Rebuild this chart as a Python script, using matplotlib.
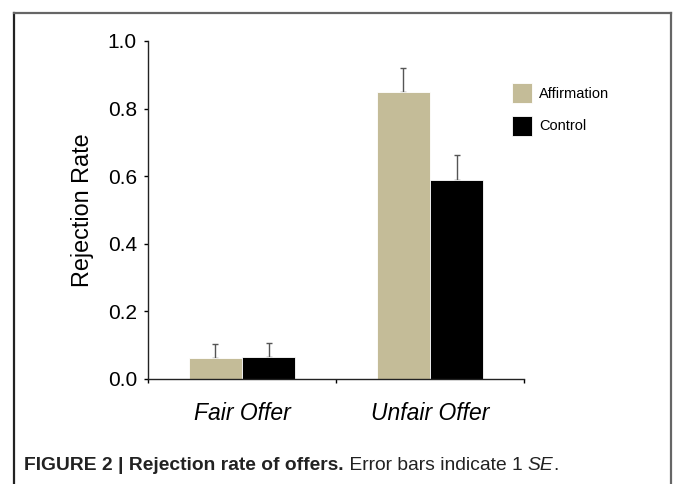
import matplotlib
matplotlib.use('Agg')
import matplotlib.pyplot as plt
from matplotlib.lines import Line2D
import numpy as np

plt.rcParams['font.family'] = ['Liberation Sans', 'DejaVu Sans']

condicoes = ['Fair Offer', 'Unfair Offer']
grupos = ['Affirmation', 'Control']
taxa_afirmacao = [0.061, 0.848]
taxa_controle = [0.063, 0.588]
ep_afirmacao = [0.042, 0.071]
ep_controle = [0.043, 0.073]
cores = ['#C4BC98', '#000000']

fig = plt.figure(figsize=(6.73, 4.84), dpi=100)
ax = fig.add_axes([0.2199, 0.2176, 0.5587, 0.6977])

x = np.arange(len(condicoes)) + 0.5
larg = 0.283
medias = [taxa_afirmacao, taxa_controle]
erros = [ep_afirmacao, ep_controle]
for i, grupo in enumerate(grupos):
    pos = x - larg / 2 if i == 0 else x + larg / 2
    ax.bar(pos, medias[i], width=larg, color=cores[i], label=grupo,
           edgecolor='white', linewidth=0.6, zorder=2)
    # barras de erro só para cima
    ax.errorbar(pos, medias[i], yerr=[np.zeros(len(pos)), erros[i]],
                fmt='none', ecolor='#555555', elinewidth=1.0,
                capsize=2.5, capthick=1.0, zorder=1)

ax.set_xlim(0, 2)
ax.set_ylim(0, 1.0)
ticks_y = np.arange(0, 1.01, 0.2)
ax.set_yticks(ticks_y)
ax.set_yticklabels(['%.1f' % v for v in ticks_y], fontsize=15)
ax.set_xticks([0, 1, 2])
ax.set_xticklabels([])
ax.set_xticks(x, minor=True)
ax.set_xticklabels(condicoes, minor=True, fontsize=16.5, style='italic')
ax.tick_params(axis='x', which='minor', length=0, pad=17)
ax.tick_params(axis='x', which='major', length=3, direction='out', width=1)
ax.tick_params(axis='y', length=3, direction='out', width=1, pad=5)
ax.set_ylabel('Rejection Rate', fontsize=16.8, labelpad=10)
for lado in ['top', 'right']:
    ax.spines[lado].set_visible(False)
for lado in ['left', 'bottom']:
    ax.spines[lado].set_linewidth(1.0)
    ax.spines[lado].set_color('#222222')

ax.legend(loc='upper left', bbox_to_anchor=(0.968, 0.876), frameon=False,
          fontsize=10.5, handlelength=1.37, handleheight=1.72,
          handletextpad=0.5, labelspacing=0.89, borderpad=0, borderaxespad=0)

# moldura da figura
fig.add_artist(Line2D([14 / 673, 14 / 673], [0, 1 - 13 / 484],
                      color='#222222', lw=1.6, transform=fig.transFigure))
fig.add_artist(Line2D([14 / 673, 671 / 673], [1 - 13 / 484, 1 - 13 / 484],
                      color='#666666', lw=1.6, transform=fig.transFigure))
fig.add_artist(Line2D([671 / 673, 671 / 673], [1 - 13 / 484, 0],
                      color='#666666', lw=1.6, transform=fig.transFigure))

# legenda da figura, com partes em negrito e itálico
partes = [('FIGURE 2 | Rejection rate of offers.', 'bold', 'normal'),
          (' Error bars indicate 1 ', 'normal', 'normal'),
          ('SE', 'normal', 'italic'),
          ('.', 'normal', 'normal')]
fig.canvas.draw()
rend = fig.canvas.get_renderer()
xpos = 24
for texto, peso, estilo in partes:
    t = fig.text(xpos / 673, 1 - 465 / 484, texto, fontsize=13.9,
                 fontweight=peso, style=estilo, va='center', ha='left',
                 color='#222222')
    xpos = t.get_window_extent(rend).x1

fig.savefig('out.png', dpi=100)
